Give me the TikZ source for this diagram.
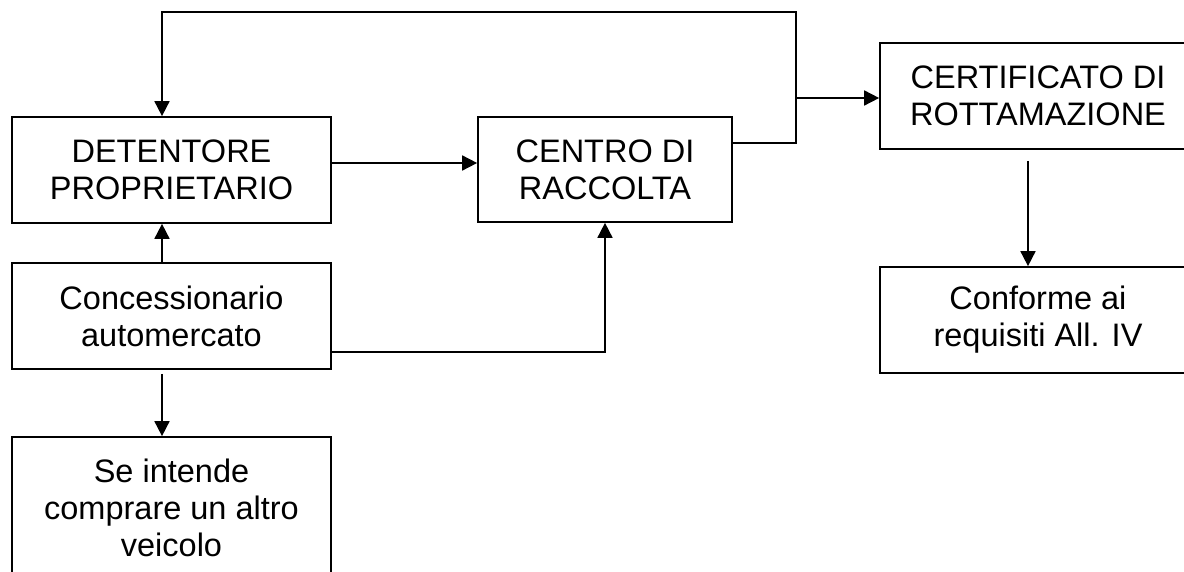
\documentclass[tikz,border=0pt]{standalone}
\usepackage{fontspec}
\setmainfont{Liberation Sans}
\usetikzlibrary{arrows.meta}
\begin{document}
\begin{tikzpicture}[x=1pt,y=-1pt,
  box/.style={draw, line width=1.7pt, align=center, inner sep=0pt,
    font=\fontsize{32.5}{37}\selectfont},
  arr/.style={line width=1.7pt, -{Triangle[length=15pt,width=15pt]}},
  ln/.style={line width=1.7pt}]
\useasboundingbox (0,0) rectangle (1184,572);
\clip (0,0) rectangle (1184,572);
\fill[white] (0,0) rectangle (1184,572);
\node[box, minimum width=319pt, minimum height=106pt] (det) at (171.5,170) {DETENTORE\\PROPRIETARIO};
\node[box, minimum width=319pt, minimum height=106pt] (conc) at (171.5,316) {Concessionario\\automercato};
\node[box, minimum width=319pt, minimum height=142pt] (se) at (171.5,508) {Se intende\\comprare un altro\\veicolo};
\node[box, minimum width=254pt, minimum height=105pt] (centro) at (605,169.5) {CENTRO DI\\RACCOLTA};
\node[box, minimum width=316pt, minimum height=106pt] (cert) at (1038,96) {CERTIFICATO DI\\ROTTAMAZIONE};
\node[box, minimum width=316pt, minimum height=106pt] (conf) at (1038,320) {Conforme ai\\requisiti All. IV};
\coordinate (top) at (796,12);
\coordinate (jx) at (796,98);
\draw[arr] ([yshift=26.5pt]centro.east) -| (top) -| ([xshift=-9.5pt]det.north);
\draw[arr] (jx) -- (jx -| cert.west);
\draw[arr] ([yshift=7pt]det.east) -- ([yshift=7pt]det.east -| centro.west);
\draw[arr] ([xshift=-9.5pt]conc.north) -- ([xshift=-9.5pt]det.south);
\draw[arr] ([yshift=-36pt]conc.east) -| (centro.south);
\draw[arr] ([xshift=-9.5pt,yshift=-4pt]conc.south) -- ([xshift=-9.5pt]se.north);
\draw[arr] ([xshift=-10pt,yshift=-11pt]cert.south) -- ([xshift=-10pt]conf.north);
\end{tikzpicture}
\end{document}
